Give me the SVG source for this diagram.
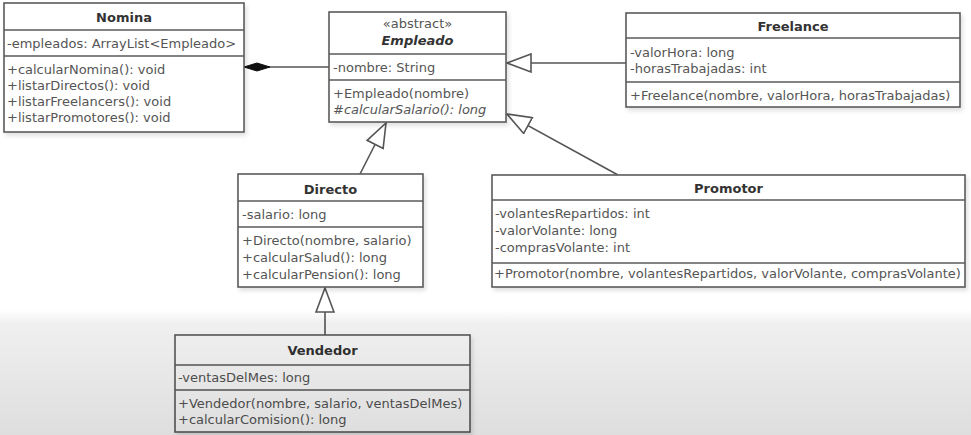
<svg xmlns="http://www.w3.org/2000/svg" width="971" height="435" viewBox="0 0 971 435">
<style>
.box{fill:#fff;stroke:#5a5a5a;stroke-width:1.6;filter:url(#sh)}
.div{stroke:#5a5a5a;stroke-width:1.6}
.t{font-family:"DejaVu Sans",sans-serif;font-size:13px;fill:#555}
.h{font-family:"DejaVu Sans",sans-serif;font-size:13px;font-weight:bold;fill:#333;text-anchor:middle}
.i{font-style:italic}
.conn{stroke:#555;stroke-width:1.6;fill:none}
</style>
<defs>
<filter id="sh" x="-5%" y="-5%" width="115%" height="120%">
<feDropShadow dx="2" dy="3" stdDeviation="2" flood-color="#000" flood-opacity="0.12"/>
</filter>
<marker id="gen" markerUnits="userSpaceOnUse" viewBox="0 0 26 20" markerWidth="26" markerHeight="20" refX="25" refY="10" orient="auto">
<path d="M1,1 L25,10 L1,19 Z" fill="#fff" stroke="#555" stroke-width="1.6"/>
</marker>
<marker id="comp" markerUnits="userSpaceOnUse" viewBox="0 0 27 10" markerWidth="27" markerHeight="10" refX="0" refY="5" orient="auto">
<path d="M0,5 L13,1 L26,5 L13,9 Z" fill="#111" stroke="#111" stroke-width="1"/>
</marker>
<linearGradient id="fade" x1="0" y1="0" x2="0" y2="1">
<stop offset="0" stop-color="#000" stop-opacity="0"/>
<stop offset="0.1" stop-color="#000" stop-opacity="0.06"/>
<stop offset="1" stop-color="#000" stop-opacity="0.13"/>
</linearGradient>
</defs>
<rect x="0" y="0" width="971" height="435" fill="#fff"/>

<g id="connectors">
<line class="conn" x1="244" y1="67" x2="329" y2="67" marker-start="url(#comp)"/>
<line class="conn" x1="626" y1="63" x2="507" y2="63" marker-end="url(#gen)"/>
<line class="conn" x1="618" y1="175" x2="507" y2="114" marker-end="url(#gen)"/>
<line class="conn" x1="360" y1="174" x2="386" y2="123" marker-end="url(#gen)"/>
<line class="conn" x1="325" y1="335" x2="325" y2="288" marker-end="url(#gen)"/>
</g>

<g id="Nomina">
<rect class="box" x="4" y="3" width="240" height="129"/>
<line class="div" x1="4" y1="30" x2="244" y2="30"/>
<line class="div" x1="4" y1="56" x2="244" y2="56"/>
<text class="h" x="124" y="22">Nomina</text>
<text class="t" x="7" y="48">-empleados: ArrayList&lt;Empleado&gt;</text>
<text class="t" x="7" y="74">+calcularNomina(): void</text>
<text class="t" x="7" y="90">+listarDirectos(): void</text>
<text class="t" x="7" y="106">+listarFreelancers(): void</text>
<text class="t" x="7" y="122">+listarPromotores(): void</text>
</g>

<g id="Empleado">
<rect class="box" x="329" y="12" width="177" height="110"/>
<line class="div" x1="329" y1="54" x2="506" y2="54"/>
<line class="div" x1="329" y1="80" x2="506" y2="80"/>
<text class="t" x="417.5" y="28" text-anchor="middle" font-size="12">«abstract»</text>
<text class="h i" x="417.5" y="45">Empleado</text>
<text class="t" x="333" y="72">-nombre: String</text>
<text class="t" x="333" y="98">+Empleado(nombre)</text>
<text class="t i" x="333" y="114">#calcularSalario(): long</text>
</g>

<g id="Freelance">
<rect class="box" x="626" y="13" width="334" height="94"/>
<line class="div" x1="626" y1="38" x2="960" y2="38"/>
<line class="div" x1="626" y1="82" x2="960" y2="82"/>
<text class="h" x="793" y="31">Freelance</text>
<text class="t" x="630" y="57">-valorHora: long</text>
<text class="t" x="630" y="73">-horasTrabajadas: int</text>
<text class="t" x="630" y="100">+Freelance(nombre, valorHora, horasTrabajadas)</text>
</g>

<g id="Directo">
<rect class="box" x="238" y="174" width="185" height="113"/>
<line class="div" x1="238" y1="201" x2="423" y2="201"/>
<line class="div" x1="238" y1="227" x2="423" y2="227"/>
<text class="h" x="330.5" y="194">Directo</text>
<text class="t" x="242" y="219">-salario: long</text>
<text class="t" x="242" y="245">+Directo(nombre, salario)</text>
<text class="t" x="242" y="262">+calcularSalud(): long</text>
<text class="t" x="242" y="279">+calcularPension(): long</text>
</g>

<g id="Promotor">
<rect class="box" x="492" y="175" width="473" height="112"/>
<line class="div" x1="492" y1="200" x2="965" y2="200"/>
<line class="div" x1="492" y1="263" x2="965" y2="263"/>
<text class="h" x="728.5" y="193">Promotor</text>
<text class="t" x="495" y="218">-volantesRepartidos: int</text>
<text class="t" x="495" y="235">-valorVolante: long</text>
<text class="t" x="495" y="252">-comprasVolante: int</text>
<text class="t" x="494" y="278">+Promotor(nombre, volantesRepartidos, valorVolante, comprasVolante)</text>
</g>

<g id="Vendedor">
<rect class="box" x="175" y="335" width="295" height="97"/>
<line class="div" x1="175" y1="365" x2="470" y2="365"/>
<line class="div" x1="175" y1="390" x2="470" y2="390"/>
<text class="h" x="322.5" y="355">Vendedor</text>
<text class="t" x="178" y="382">-ventasDelMes: long</text>
<text class="t" x="178" y="408">+Vendedor(nombre, salario, ventasDelMes)</text>
<text class="t" x="178" y="424">+calcularComision(): long</text>
</g>

<rect x="0" y="310" width="971" height="125" fill="url(#fade)"/>
</svg>
